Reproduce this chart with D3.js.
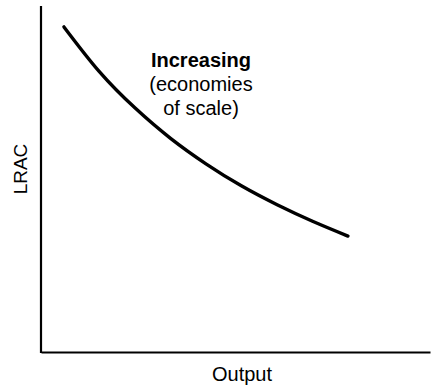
<!DOCTYPE html>
<html>
<head>
<meta charset="utf-8">
<script src="https://cdn.jsdelivr.net/npm/d3@7"></script>
<style>
  html, body { margin: 0; padding: 0; background: #fff; }
  svg { display: block; }
  text { font-family: "Liberation Sans", Arial, Helvetica, sans-serif; fill: #000; }
</style>
</head>
<body>
<svg id="chart" width="436" height="386"></svg>
<script>
// Long-run average cost curve (output vs. LRAC, arbitrary units)
const output = [0.59, 1.50, 2.42, 3.33, 4.24, 5.15, 6.07, 6.98, 7.89];
const lrac   = [9.45, 8.15, 7.09, 6.21, 5.47, 4.83, 4.28, 3.80, 3.37];
const noteLines = ["Increasing", "(economies", "of scale)"];
const xTitle = "Output";
const yTitle = "LRAC";

const svg = d3.select("#chart");
const x0 = 41, x1 = 430, y0 = 352, y1 = 6;

const x = d3.scaleLinear().domain([0, 10]).range([x0, x1]);
const y = d3.scaleLinear().domain([0, 10]).range([y0, y1 + 2]);

// Axes: plain lines without ticks
const xAxis = d3.axisBottom(x).tickValues([]).tickSizeOuter(0);
const yAxis = d3.axisLeft(y).tickValues([]).tickSizeOuter(0);

svg.append("g")
  .attr("transform", `translate(0,${y0})`)
  .call(xAxis)
  .call(g => g.select(".domain").attr("stroke", "#000").attr("stroke-width", 2.2));

svg.append("g")
  .attr("transform", `translate(${x0},0)`)
  .call(yAxis)
  .call(g => g.select(".domain")
    .attr("d", `M0,${y1}V${y0 + 1}`)
    .attr("stroke", "#000").attr("stroke-width", 2.2));

// LRAC curve
const pts = output.map((d, i) => [d, lrac[i]]);
const line = d3.line()
  .x(d => x(d[0]))
  .y(d => y(d[1]))
  .curve(d3.curveNatural);

svg.append("path")
  .datum(pts)
  .attr("d", line)
  .attr("fill", "none")
  .attr("stroke", "#000")
  .attr("stroke-width", 3.4)
  .attr("stroke-linecap", "round");

// Annotation
const note = svg.append("text")
  .attr("text-anchor", "middle")
  .attr("font-size", 20);
noteLines.forEach((t, i) => {
  note.append("tspan")
    .attr("x", 201)
    .attr("y", 67 + i * 24)
    .attr("font-weight", i === 0 ? "bold" : "normal")
    .text(t);
});

// Axis titles
svg.append("text")
  .attr("x", 242)
  .attr("y", 381)
  .attr("text-anchor", "middle")
  .attr("font-size", 20)
  .text(xTitle);

svg.append("text")
  .attr("transform", "translate(27,169) rotate(-90)")
  .attr("text-anchor", "middle")
  .attr("font-size", 19)
  .text(yTitle);
</script>
</body>
</html>
